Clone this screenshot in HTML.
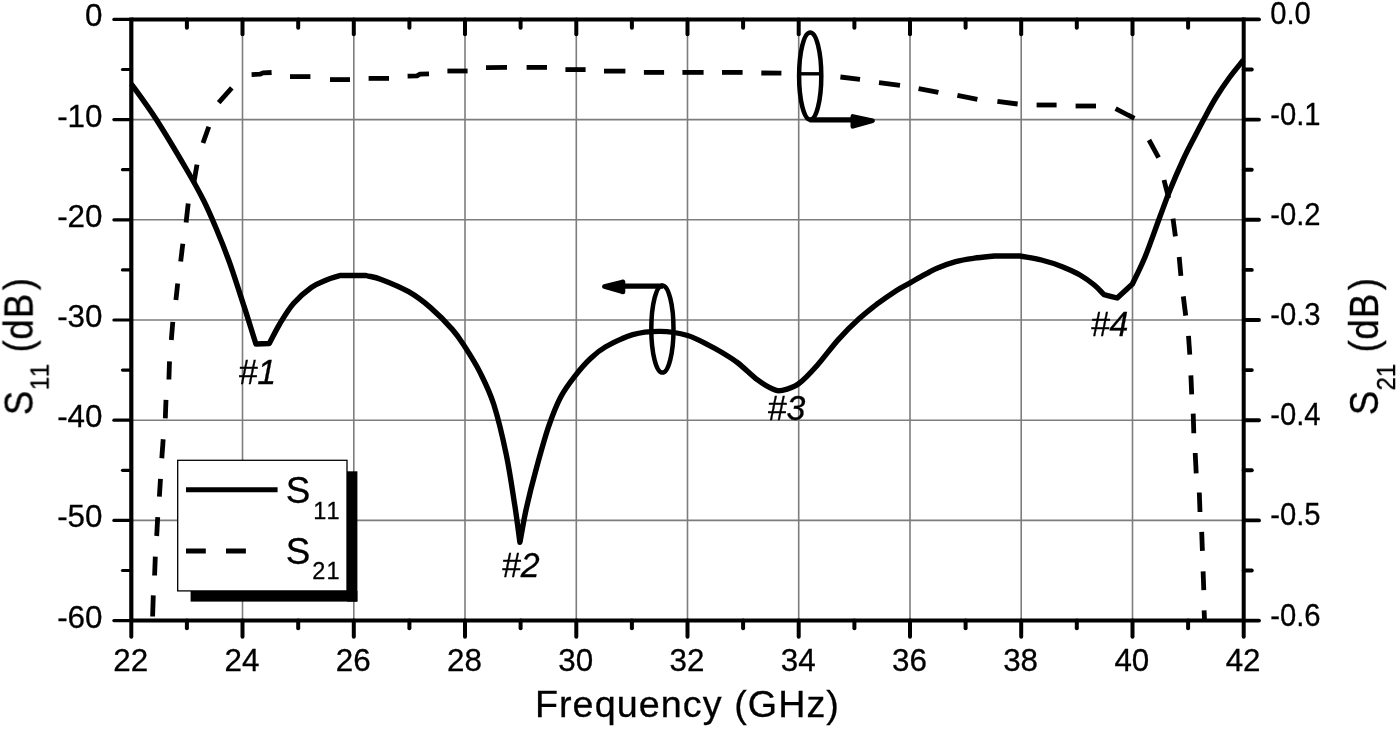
<!DOCTYPE html>
<html lang="en"><head><meta charset="utf-8"><title>S11 / S21 vs Frequency</title>
<style>html,body{margin:0;padding:0;background:#fff;overflow:hidden}svg{display:block}text{font-family:"Liberation Sans",Arial,Helvetica,sans-serif;fill:#000;stroke:#000;stroke-width:0.3px}</style></head><body>
<svg width="1400" height="729" viewBox="0 0 1400 729">
<defs><filter id="soft" x="0" y="0" width="1400" height="729" filterUnits="userSpaceOnUse"><feGaussianBlur stdDeviation="0.5"/></filter></defs>
<rect x="0" y="0" width="1400" height="729" fill="#fff"/>
<g filter="url(#soft)">
<g stroke="#7d7d7d" stroke-width="1.6" fill="none">
<line x1="242.5" y1="19.4" x2="242.5" y2="620.6"/>
<line x1="353.8" y1="19.4" x2="353.8" y2="620.6"/>
<line x1="465.0" y1="19.4" x2="465.0" y2="620.6"/>
<line x1="576.3" y1="19.4" x2="576.3" y2="620.6"/>
<line x1="687.5" y1="19.4" x2="687.5" y2="620.6"/>
<line x1="798.7" y1="19.4" x2="798.7" y2="620.6"/>
<line x1="910.0" y1="19.4" x2="910.0" y2="620.6"/>
<line x1="1021.2" y1="19.4" x2="1021.2" y2="620.6"/>
<line x1="1132.5" y1="19.4" x2="1132.5" y2="620.6"/>
<line x1="131.3" y1="119.6" x2="1243.7" y2="119.6"/>
<line x1="131.3" y1="219.8" x2="1243.7" y2="219.8"/>
<line x1="131.3" y1="320.0" x2="1243.7" y2="320.0"/>
<line x1="131.3" y1="420.2" x2="1243.7" y2="420.2"/>
<line x1="131.3" y1="520.4" x2="1243.7" y2="520.4"/>
</g>
<rect x="190.6" y="591" width="166.8" height="10.6" fill="#000"/>
<rect x="347" y="471.3" width="10.4" height="130.3" fill="#000"/>
<rect x="177.7" y="460.3" width="169.3" height="130.6" fill="#fff" stroke="#000" stroke-width="1.3"/>
<line x1="186" y1="489.8" x2="277.6" y2="489.8" stroke="#000" stroke-width="5.0"/>
<line x1="186" y1="551" x2="205.8" y2="551" stroke="#000" stroke-width="5.0"/>
<line x1="226" y1="551" x2="245.9" y2="551" stroke="#000" stroke-width="5.0"/>
<g stroke="#000" stroke-width="4.8" fill="none" stroke-linejoin="round">
<polyline points="152.6,616.5 153.3,595.4"/>
<polyline points="154.6,575.5 155.3,556.6"/>
<polyline points="156.7,536.0 157.7,517.2"/>
<polyline points="159.4,496.6 160.5,478.8"/>
<polyline points="161.8,458.2 163.2,439.3"/>
<polyline points="165.3,418.4 166.0,399.9"/>
<polyline points="168.9,379.5 169.5,361.4"/>
<polyline points="171.3,340.0 172.8,321.9"/>
<polyline points="175.9,300.1 177.7,283.5"/>
<polyline points="180.7,261.5 182.8,243.7"/>
<polyline points="186.1,222.6 188.2,203.6"/>
<polyline points="193.8,183.0 197.0,164.7"/>
<polyline points="203.0,143.0 208.8,126.8"/>
<polyline points="218.7,102.6 231.8,87.8"/>
<polyline points="251.6,74.6 260.0,74.2 263.0,72.9 271.6,72.5"/>
<polyline points="290.0,76.6 310.4,76.6"/>
<polyline points="330.0,79.6 350.0,79.6"/>
<polyline points="368.6,78.4 389.0,78.4"/>
<polyline points="407.6,76.2 417.0,75.9 420.0,74.2 429.0,73.9"/>
<polyline points="447.4,71.0 467.6,71.0"/>
<polyline points="486.0,67.6 507.0,67.4"/>
<polyline points="526.6,67.4 547.0,67.4"/>
<polyline points="565.4,69.6 585.6,69.6"/>
<polyline points="604.0,71.1 625.4,71.1"/>
<polyline points="643.9,72.4 664.1,72.4"/>
<polyline points="682.4,72.4 703.6,72.4"/>
<polyline points="722.0,72.4 742.6,72.4"/>
<polyline points="761.3,73.0 781.4,73.2"/>
<polyline points="840.4,77.0 860.0,79.4"/>
<polyline points="879.0,82.6 900.0,85.4"/>
<polyline points="918.6,88.6 938.4,92.4"/>
<polyline points="957.4,95.4 977.4,99.4"/>
<polyline points="997.4,101.4 1017.6,104.0"/>
<polyline points="1036.6,105.0 1056.6,105.0"/>
<polyline points="1075.6,106.0 1096.0,106.0"/>
<polyline points="1115.6,108.6 1134.4,118.4"/>
<polyline points="1149.0,140.0 1158.6,157.6"/>
<polyline points="1164.0,180.0 1168.6,198.0"/>
<polyline points="1173.0,218.6 1175.4,236.4"/>
<polyline points="1179.2,257.0 1180.9,275.9"/>
<polyline points="1183.3,296.4 1185.7,315.6"/>
<polyline points="1188.5,335.9 1189.8,354.7"/>
<polyline points="1190.9,375.3 1191.7,394.3"/>
<polyline points="1193.2,413.6 1193.8,433.2"/>
<polyline points="1195.2,453.0 1196.2,473.3"/>
<polyline points="1199.3,492.5 1200.0,512.0"/>
<polyline points="1201.7,531.9 1202.4,550.8"/>
<polyline points="1203.1,571.4 1203.8,590.2"/>
<polyline points="1204.1,610.4 1204.5,619.0"/>
</g>
<line x1="800.7" y1="73.8" x2="820.7" y2="73.8" stroke="#000" stroke-width="3.4"/>
<path d="M131.4,84.0C135.5,89.8 146.9,104.9 156.0,119.0C165.1,133.1 178.1,155.0 186.0,168.5C193.9,182.0 198.4,190.1 203.4,200.0C208.4,209.9 211.7,217.8 216.0,228.0C220.3,238.2 224.3,248.0 229.0,261.0C233.7,274.0 239.5,292.4 244.0,306.2C248.5,320.0 251.9,331.4 255.9,344.0C260.4,343.8 264.8,343.7 269.3,343.5C272.8,337.0 275.7,330.7 279.7,324.0C283.7,317.3 288.2,309.6 293.5,303.5C298.8,297.4 305.8,291.4 311.3,287.5C316.8,283.6 321.6,282.0 326.4,280.0C331.2,278.0 335.5,277.0 340.0,275.5C348.7,275.5 357.3,275.5 366.0,275.5C371.1,276.8 374.1,276.7 381.2,279.4C388.3,282.1 400.4,287.0 408.6,291.7C416.8,296.4 423.2,301.3 430.5,307.6C437.8,313.9 446.8,323.1 452.5,329.6C458.2,336.1 460.2,339.5 464.8,346.6C469.4,353.7 475.1,362.5 479.9,372.1C484.7,381.8 489.4,390.7 493.8,404.5C498.2,418.3 502.8,437.9 506.3,454.7C509.8,471.5 512.5,490.8 514.8,505.4C517.1,520.0 518.2,530.0 519.9,542.3C522.1,530.9 523.7,520.2 526.4,508.1C529.1,496.0 532.3,483.2 536.0,469.7C539.7,456.2 544.3,439.3 548.4,427.2C552.5,415.1 556.2,405.6 560.7,397.0C565.2,388.4 570.5,381.7 575.5,375.3C580.5,368.9 585.5,363.2 590.5,358.5C595.5,353.8 598.3,351.0 605.3,347.0C612.3,343.0 623.6,337.3 632.7,334.7C641.8,332.1 651.0,331.3 660.1,331.4C669.2,331.5 679.4,333.1 687.6,335.5C695.8,337.9 703.8,342.8 709.5,345.6C715.2,348.4 717.2,349.6 722.0,352.5C726.8,355.4 732.1,358.4 738.0,363.0C743.9,367.6 751.8,375.6 757.6,379.9C763.4,384.2 768.6,387.3 772.7,389.0C776.8,390.7 778.0,391.2 782.3,390.3C786.6,389.4 792.8,388.0 798.6,383.8C804.4,379.6 810.7,372.6 817.3,365.2C823.9,357.8 831.3,347.4 838.3,339.6C845.3,331.8 852.7,324.6 859.3,318.6C865.9,312.6 871.7,308.1 877.9,303.4C884.1,298.7 891.2,293.9 896.6,290.4C902.0,286.9 906.4,284.9 910.5,282.6C914.6,280.3 916.6,279.0 921.0,276.6C925.4,274.2 931.3,270.7 937.1,268.2C942.9,265.7 949.5,263.3 955.7,261.6C961.9,259.9 967.9,259.1 974.3,258.2C980.7,257.3 987.6,256.7 994.3,256.0C1002.9,256.0 1011.4,256.0 1020.0,256.0C1027.1,257.3 1034.2,258.2 1041.4,260.0C1048.6,261.8 1056.5,264.4 1062.9,266.9C1069.3,269.4 1074.8,272.0 1080.0,275.0C1085.2,278.0 1090.3,281.7 1094.3,285.0C1098.3,288.3 1100.8,291.4 1104.0,294.6C1108.4,295.7 1112.8,296.9 1117.2,298.0C1122.3,293.3 1127.3,288.7 1132.4,284.0C1136.6,275.0 1140.4,268.2 1145.0,257.0C1149.6,245.8 1155.8,227.7 1160.0,216.5C1164.2,205.3 1166.2,199.4 1170.0,190.0C1173.8,180.6 1179.1,168.5 1183.0,160.0C1186.9,151.5 1189.9,146.0 1193.5,139.0C1197.1,132.0 1200.8,124.9 1204.5,118.0C1208.2,111.1 1211.8,104.2 1216.0,97.5C1220.2,90.8 1224.9,83.8 1229.5,77.5C1234.1,71.2 1241.1,62.9 1243.4,60.0" stroke="#000" stroke-width="5.4" fill="none" stroke-linejoin="round" stroke-linecap="butt"/>
<g stroke="#000" fill="none">
<ellipse cx="810.2" cy="76.1" rx="11.1" ry="43.6" stroke-width="4.5"/>
<ellipse cx="662.4" cy="329" rx="11.1" ry="43.6" stroke-width="4.5"/>
<line x1="809.5" y1="119.8" x2="854" y2="119.8" stroke-width="5.2"/>
<line x1="663" y1="286.2" x2="622" y2="286.2" stroke-width="5.2"/>
</g>
<polygon points="852.8,116.4 852.8,126.4 872.6,120.7" fill="#000" stroke="#000" stroke-width="4.6" stroke-linejoin="round"/>
<polygon points="623,281.8 623,292.0 604.4,286.6" fill="#000" stroke="#000" stroke-width="4.6" stroke-linejoin="round"/>
<g stroke="#000" fill="none" stroke-linecap="butt">
<line x1="131.3" y1="17.4" x2="131.3" y2="620.6" stroke-width="4.2"/>
<line x1="1243.7" y1="17.4" x2="1243.7" y2="620.6" stroke-width="4.0"/>
<line x1="131.3" y1="19.4" x2="1243.7" y2="19.4" stroke-width="4.0"/>
<line x1="131.3" y1="620.6" x2="1243.7" y2="620.6" stroke-width="4.0"/>
</g>
<g stroke="#000" stroke-width="4.0" fill="none" stroke-linecap="round">
<line x1="131.3" y1="620.6" x2="131.3" y2="636.8"/>
<line x1="186.9" y1="19.4" x2="186.9" y2="27.8"/>
<line x1="186.9" y1="620.6" x2="186.9" y2="628.2"/>
<line x1="242.5" y1="19.4" x2="242.5" y2="34.2"/>
<line x1="242.5" y1="620.6" x2="242.5" y2="636.8"/>
<line x1="298.2" y1="19.4" x2="298.2" y2="27.8"/>
<line x1="298.2" y1="620.6" x2="298.2" y2="628.2"/>
<line x1="353.8" y1="19.4" x2="353.8" y2="34.2"/>
<line x1="353.8" y1="620.6" x2="353.8" y2="636.8"/>
<line x1="409.4" y1="19.4" x2="409.4" y2="27.8"/>
<line x1="409.4" y1="620.6" x2="409.4" y2="628.2"/>
<line x1="465.0" y1="19.4" x2="465.0" y2="34.2"/>
<line x1="465.0" y1="620.6" x2="465.0" y2="636.8"/>
<line x1="520.6" y1="19.4" x2="520.6" y2="27.8"/>
<line x1="520.6" y1="620.6" x2="520.6" y2="628.2"/>
<line x1="576.3" y1="19.4" x2="576.3" y2="34.2"/>
<line x1="576.3" y1="620.6" x2="576.3" y2="636.8"/>
<line x1="631.9" y1="19.4" x2="631.9" y2="27.8"/>
<line x1="631.9" y1="620.6" x2="631.9" y2="628.2"/>
<line x1="687.5" y1="19.4" x2="687.5" y2="34.2"/>
<line x1="687.5" y1="620.6" x2="687.5" y2="636.8"/>
<line x1="743.1" y1="19.4" x2="743.1" y2="27.8"/>
<line x1="743.1" y1="620.6" x2="743.1" y2="628.2"/>
<line x1="798.7" y1="19.4" x2="798.7" y2="34.2"/>
<line x1="798.7" y1="620.6" x2="798.7" y2="636.8"/>
<line x1="854.4" y1="19.4" x2="854.4" y2="27.8"/>
<line x1="854.4" y1="620.6" x2="854.4" y2="628.2"/>
<line x1="910.0" y1="19.4" x2="910.0" y2="34.2"/>
<line x1="910.0" y1="620.6" x2="910.0" y2="636.8"/>
<line x1="965.6" y1="19.4" x2="965.6" y2="27.8"/>
<line x1="965.6" y1="620.6" x2="965.6" y2="628.2"/>
<line x1="1021.2" y1="19.4" x2="1021.2" y2="34.2"/>
<line x1="1021.2" y1="620.6" x2="1021.2" y2="636.8"/>
<line x1="1076.8" y1="19.4" x2="1076.8" y2="27.8"/>
<line x1="1076.8" y1="620.6" x2="1076.8" y2="628.2"/>
<line x1="1132.5" y1="19.4" x2="1132.5" y2="34.2"/>
<line x1="1132.5" y1="620.6" x2="1132.5" y2="636.8"/>
<line x1="1188.1" y1="19.4" x2="1188.1" y2="27.8"/>
<line x1="1188.1" y1="620.6" x2="1188.1" y2="628.2"/>
<line x1="1243.7" y1="620.6" x2="1243.7" y2="636.8"/>
</g>
<g stroke="#000" stroke-width="3.2" fill="none" stroke-linecap="round">
<line x1="131.3" y1="19.4" x2="113.9" y2="19.4"/>
<line x1="131.3" y1="69.5" x2="122.5" y2="69.5"/>
<line x1="131.3" y1="119.6" x2="113.9" y2="119.6"/>
<line x1="131.3" y1="169.7" x2="122.5" y2="169.7"/>
<line x1="131.3" y1="219.8" x2="113.9" y2="219.8"/>
<line x1="131.3" y1="269.9" x2="122.5" y2="269.9"/>
<line x1="131.3" y1="320.0" x2="113.9" y2="320.0"/>
<line x1="131.3" y1="370.1" x2="122.5" y2="370.1"/>
<line x1="131.3" y1="420.2" x2="113.9" y2="420.2"/>
<line x1="131.3" y1="470.3" x2="122.5" y2="470.3"/>
<line x1="131.3" y1="520.4" x2="113.9" y2="520.4"/>
<line x1="131.3" y1="570.5" x2="122.5" y2="570.5"/>
<line x1="131.3" y1="620.6" x2="113.9" y2="620.6"/>
</g>
<g stroke="#000" stroke-width="3.9" fill="none" stroke-linecap="round">
<line x1="1243.7" y1="19.4" x2="1259.0" y2="19.4"/>
<line x1="1243.7" y1="69.5" x2="1251.8" y2="69.5"/>
<line x1="1243.7" y1="119.6" x2="1259.0" y2="119.6"/>
<line x1="1243.7" y1="169.7" x2="1251.8" y2="169.7"/>
<line x1="1243.7" y1="219.8" x2="1259.0" y2="219.8"/>
<line x1="1243.7" y1="269.9" x2="1251.8" y2="269.9"/>
<line x1="1243.7" y1="320.0" x2="1259.0" y2="320.0"/>
<line x1="1243.7" y1="370.1" x2="1251.8" y2="370.1"/>
<line x1="1243.7" y1="420.2" x2="1259.0" y2="420.2"/>
<line x1="1243.7" y1="470.3" x2="1251.8" y2="470.3"/>
<line x1="1243.7" y1="520.4" x2="1259.0" y2="520.4"/>
<line x1="1243.7" y1="570.5" x2="1251.8" y2="570.5"/>
<line x1="1243.7" y1="620.6" x2="1259.0" y2="620.6"/>
</g>
<text transform="translate(102.50,26.40) scale(1.015,1)" font-size="30.9" text-anchor="end">0</text>
<text transform="translate(1270.20,24.40) scale(0.945,1)" font-size="30.9" text-anchor="start">0.0</text>
<text transform="translate(102.50,126.60) scale(1.015,1)" font-size="30.9" text-anchor="end">-10</text>
<text transform="translate(1270.20,124.60) scale(0.945,1)" font-size="30.9" text-anchor="start">-0.1</text>
<text transform="translate(102.50,226.80) scale(1.015,1)" font-size="30.9" text-anchor="end">-20</text>
<text transform="translate(1270.20,224.80) scale(0.945,1)" font-size="30.9" text-anchor="start">-0.2</text>
<text transform="translate(102.50,327.00) scale(1.015,1)" font-size="30.9" text-anchor="end">-30</text>
<text transform="translate(1270.20,325.00) scale(0.945,1)" font-size="30.9" text-anchor="start">-0.3</text>
<text transform="translate(102.50,427.20) scale(1.015,1)" font-size="30.9" text-anchor="end">-40</text>
<text transform="translate(1270.20,425.20) scale(0.945,1)" font-size="30.9" text-anchor="start">-0.4</text>
<text transform="translate(102.50,527.40) scale(1.015,1)" font-size="30.9" text-anchor="end">-50</text>
<text transform="translate(1270.20,525.40) scale(0.945,1)" font-size="30.9" text-anchor="start">-0.5</text>
<text transform="translate(102.50,627.60) scale(1.015,1)" font-size="30.9" text-anchor="end">-60</text>
<text transform="translate(1270.20,625.60) scale(0.945,1)" font-size="30.9" text-anchor="start">-0.6</text>
<text transform="translate(130.70,670.60) scale(1.015,1)" font-size="30.9" text-anchor="middle">22</text>
<text transform="translate(241.94,670.60) scale(1.015,1)" font-size="30.9" text-anchor="middle">24</text>
<text transform="translate(353.18,670.60) scale(1.015,1)" font-size="30.9" text-anchor="middle">26</text>
<text transform="translate(464.42,670.60) scale(1.015,1)" font-size="30.9" text-anchor="middle">28</text>
<text transform="translate(575.66,670.60) scale(1.015,1)" font-size="30.9" text-anchor="middle">30</text>
<text transform="translate(686.90,670.60) scale(1.015,1)" font-size="30.9" text-anchor="middle">32</text>
<text transform="translate(798.14,670.60) scale(1.015,1)" font-size="30.9" text-anchor="middle">34</text>
<text transform="translate(909.38,670.60) scale(1.015,1)" font-size="30.9" text-anchor="middle">36</text>
<text transform="translate(1020.62,670.60) scale(1.015,1)" font-size="30.9" text-anchor="middle">38</text>
<text transform="translate(1131.86,670.60) scale(1.015,1)" font-size="30.9" text-anchor="middle">40</text>
<text transform="translate(1243.10,670.60) scale(1.015,1)" font-size="30.9" text-anchor="middle">42</text>
<text transform="translate(534.90,717.40)" font-size="37.7" text-anchor="start" letter-spacing="1.07">Frequency (GHz)</text>
<text transform="translate(32.80,415.20) rotate(-90) scale(1,1.092)" font-size="36.6"><tspan x="0" y="0">S</tspan><tspan font-size="24.0" x="25.1 38.0" y="14.5">11</tspan><tspan x="62.7 75.4 97.1 124.9" y="0">(dB)</tspan></text>
<text transform="translate(1378.20,415.20) rotate(-90) scale(1,1.092)" font-size="36.6"><tspan x="0" y="0">S</tspan><tspan font-size="24.0" x="24.7 38.1" y="15.6">21</tspan><tspan x="62.7 75.4 97.1 124.9" y="0">(dB)</tspan></text>
<text transform="translate(285.80,502.70) scale(0.975,1)" font-size="37.8" text-anchor="start">S</text>
<text transform="translate(285.80,564.20) scale(0.975,1)" font-size="37.8" text-anchor="start">S</text>
<text font-size="23.5" x="313.3 326.5" y="518.8">11</text>
<text font-size="23.5" x="312.3 326.5" y="579.4">21</text>
<text transform="translate(238.45,383.70) scale(0.955,1)" font-size="35.5" text-anchor="start" font-style="italic">#1</text>
<text transform="translate(501.85,577.30) scale(0.955,1)" font-size="35.5" text-anchor="start" font-style="italic">#2</text>
<text transform="translate(767.55,420.40) scale(0.955,1)" font-size="35.5" text-anchor="start" font-style="italic">#3</text>
<text transform="translate(1090.65,336.40) scale(0.955,1)" font-size="35.5" text-anchor="start" font-style="italic">#4</text>
</g>
</svg></body></html>
